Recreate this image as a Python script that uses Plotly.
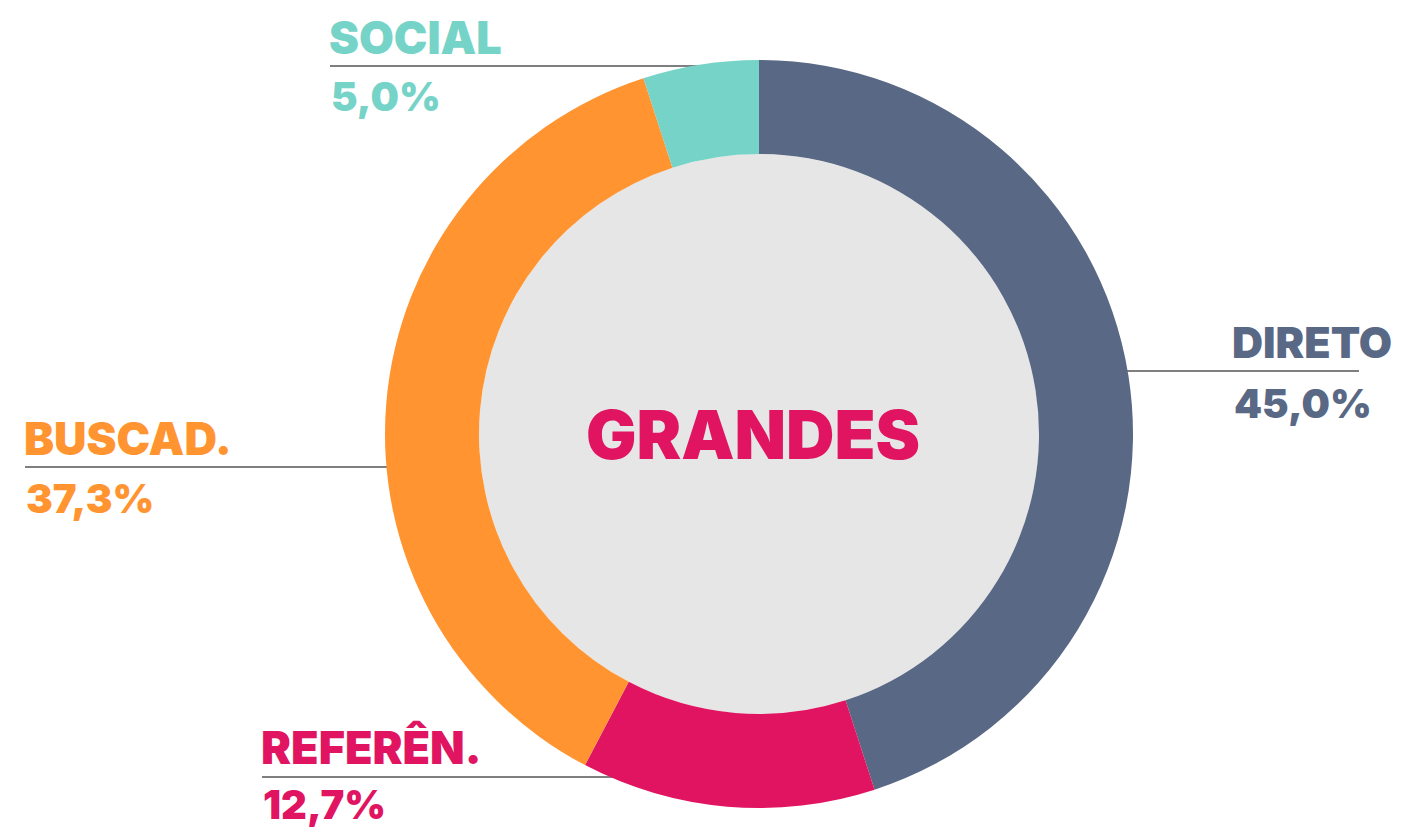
import plotly.graph_objects as go

OFF = 8  # page body margin offset
W, H = 1407 - OFF, 828 - OFF

categories = ["DIRETO", "REFERÊN.", "BUSCAD.", "SOCIAL"]
values = [45.0, 12.7, 37.3, 5.0]
pct_labels = ["45,0%", "12,7%", "37,3%", "5,0%"]
colors = ["#596884", "#e01461", "#ff9430", "#75d3c7"]
center_title = "GRANDES"

# geometry in pixels (page coordinates)
cx, cy, R, r_in = 759, 434, 374, 280

def px(x):
    return (x - OFF) / W

def py(y):
    return 1 - (y - OFF) / H

fig = go.Figure()
fig.add_trace(go.Pie(
    labels=categories, values=values, sort=False, direction="clockwise",
    rotation=0, hole=r_in / R, textinfo="none", hoverinfo="label+percent",
    marker=dict(colors=colors, line=dict(width=0)),
    domain=dict(x=[px(cx - R), px(cx + R)], y=[py(cy + R), py(cy - R)]),
    showlegend=False,
))

shapes = [dict(type="circle", xref="paper", yref="paper", layer="below",
               x0=px(cx - r_in), x1=px(cx + r_in), y0=py(cy + r_in), y1=py(cy - r_in),
               fillcolor="#e6e6e6", line=dict(width=0))]

# label placement: (left x, label y, pct y, line y, line x0, line x1, label size)
place = {
    "DIRETO": (1230, 342, 403, 371, 1127, 1359, 43),
    "REFERÊN.": (259, 747, 804, 777, 262, 620, 45),
    "BUSCAD.": (22, 438, 498, 467, 25, 390, 45),
    "SOCIAL": (327, 37, 97, 66, 330, 700, 45),
}

annotations = []
fnt = "Inter, Roboto, 'DejaVu Sans', sans-serif"
for cat, pct, col in zip(categories, pct_labels, colors):
    lx, ly, pyy, liney, l0, l1, fs = place[cat]
    shapes.append(dict(type="line", xref="paper", yref="paper", layer="below",
                       x0=px(l0), x1=px(l1), y0=py(liney), y1=py(liney),
                       line=dict(color="#555555", width=1.5)))
    annotations.append(dict(text=cat, x=px(lx), y=py(ly), xref="paper", yref="paper",
                            xanchor="left", yanchor="middle", showarrow=False,
                            font=dict(family=fnt, size=fs, color=col, weight=900)))
    annotations.append(dict(text=pct, x=px(lx + 2), y=py(pyy), xref="paper", yref="paper",
                            xanchor="left", yanchor="middle", showarrow=False,
                            font=dict(family=fnt, size=40, color=col, weight=900)))

annotations.append(dict(text=center_title, x=px(753), y=py(cy), xref="paper", yref="paper",
                        xanchor="center", yanchor="middle", showarrow=False,
                        font=dict(family=fnt, size=67, color="#e01461", weight=900)))

fig.update_layout(width=W, height=H, margin=dict(l=0, r=0, t=0, b=0),
                  paper_bgcolor="white", plot_bgcolor="white",
                  shapes=shapes, annotations=annotations)

fig.write_html("out.html")
